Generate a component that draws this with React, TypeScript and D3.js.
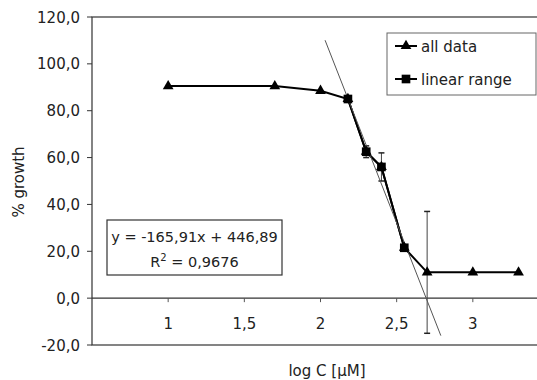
import { useEffect, useRef } from 'react'
import * as d3 from 'd3'

// all data (triangles)
const allX = [1, 1.7, 2, 2.18, 2.3, 2.4, 2.55, 2.7, 3, 3.3]
const allY = [90.5, 90.5, 88.5, 85, 62.5, 56, 21.5, 11, 11, 11]
// linear range (squares)
const linX = [2.18, 2.3, 2.4, 2.55]
const linY = [85, 62.5, 56, 21.5]
// error bars
const errX = [2.3, 2.4, 2.7]
const errY = [62.5, 56, 11]
const errVal = [2.5, 6, 26]
// linear trendline
const slope = -165.91
const intercept = 446.89
const trendRange = [2.03, 2.79]

const yTicks = [-20, 0, 20, 40, 60, 80, 100, 120]
const xTicks = [1, 1.5, 2, 2.5, 3]
const legendLabels = ['all data', 'linear range']

const FONT = '"DejaVu Sans", sans-serif'

export default function App() {
  const ref = useRef<SVGSVGElement>(null)

  useEffect(() => {
    if (!ref.current) return
    const svg = d3.select(ref.current)
    svg.selectAll('*').remove()

    const left = 92, top = 17, bottom = 345, right = 549
    const x = d3.scaleLinear().domain([0.5, 3.5]).range([left, right])
    const y = d3.scaleLinear().domain([-20, 120]).range([bottom, top])
    // german style numbers, plain hyphen for minus
    const comma = (v: number, f: string) => d3.format(f)(v).replace('.', ',').replace('\u2212', '-')

    // frame
    svg.append('rect')
      .attr('x', left).attr('y', top).attr('width', right - left).attr('height', bottom - top)
      .attr('fill', 'none').attr('stroke', '#333').attr('stroke-width', 1.2)

    // y axis ticks + labels
    yTicks.forEach(t => {
      svg.append('line').attr('x1', left - 5).attr('x2', left).attr('y1', y(t)).attr('y2', y(t))
        .attr('stroke', '#333')
      svg.append('text').attr('x', 80).attr('y', y(t) + 5.5).attr('text-anchor', 'end')
        .style('font-family', FONT).style('font-size', '15px').style('fill', '#222')
        .text(comma(t, '.1f'))
    })

    // x axis at y=0
    svg.append('line').attr('x1', left).attr('x2', right).attr('y1', y(0)).attr('y2', y(0))
      .attr('stroke', '#333').attr('stroke-width', 1.2)
    xTicks.forEach(t => {
      svg.append('line').attr('x1', x(t)).attr('x2', x(t)).attr('y1', y(0)).attr('y2', y(0) + 4)
        .attr('stroke', '#555')
      svg.append('text').attr('x', x(t)).attr('y', 329).attr('text-anchor', 'middle')
        .style('font-family', FONT).style('font-size', '15px').style('fill', '#222')
        .text(comma(t, ''))
    })

    // axis titles
    svg.append('text').attr('x', 327).attr('y', 376).attr('text-anchor', 'middle')
      .style('font-family', FONT).style('font-size', '15px').style('fill', '#222')
      .text('log C [µM]')
    svg.append('text').attr('transform', `translate(24,182) rotate(-90)`).attr('text-anchor', 'middle')
      .style('font-family', FONT).style('font-size', '15px').style('fill', '#222')
      .text('% growth')

    // error bars
    errX.forEach((ex, i) => {
      const y0 = y(errY[i] + errVal[i]), y1 = y(errY[i] - errVal[i])
      svg.append('line').attr('x1', x(ex)).attr('x2', x(ex)).attr('y1', y0).attr('y2', y1)
        .attr('stroke', '#444').attr('stroke-width', 1)
      ;[y0, y1].forEach(cy => svg.append('line').attr('x1', x(ex) - 3).attr('x2', x(ex) + 3)
        .attr('y1', cy).attr('y2', cy).attr('stroke', '#222').attr('stroke-width', 1.5))
    })

    // lines
    const path = (xs: number[], ys: number[]) =>
      d3.line<number>().x(d => x(xs[d])).y(d => y(ys[d]))(xs.map((_, i) => i))
    svg.append('path').attr('d', path(allX, allY)).attr('fill', 'none')
      .attr('stroke', '#000').attr('stroke-width', 2)
    svg.append('path').attr('d', path(linX, linY)).attr('fill', 'none')
      .attr('stroke', '#000').attr('stroke-width', 2)

    // trendline
    svg.append('line')
      .attr('x1', x(trendRange[0])).attr('y1', y(slope * trendRange[0] + intercept))
      .attr('x2', x(trendRange[1])).attr('y2', y(slope * trendRange[1] + intercept))
      .attr('stroke', '#555').attr('stroke-width', 1)

    const tri = d3.symbol(d3.symbolTriangle, 50)
    const sq = d3.symbol(d3.symbolSquare, 75)
    allX.forEach((ax, i) => {
      svg.append('path').attr('d', tri()).attr('transform', `translate(${x(ax)},${y(allY[i])})`)
        .attr('fill', '#000')
    })
    linX.forEach((lx, i) => {
      svg.append('path').attr('d', sq()).attr('transform', `translate(${x(lx)},${y(linY[i])})`)
        .attr('fill', '#000')
    })

    // equation box
    svg.append('rect').attr('x', 107).attr('y', 220).attr('width', 175).attr('height', 55)
      .attr('fill', '#fff').attr('stroke', '#333').attr('stroke-width', 1.2)
    svg.append('text').attr('x', 194.5).attr('y', 242).attr('text-anchor', 'middle')
      .style('font-family', FONT).style('font-size', '14.5px').style('fill', '#222')
      .text(`y = ${comma(slope, '.2f')}x + ${comma(intercept, '.2f')}`)
    const r2 = svg.append('text').attr('x', 194.5).attr('y', 267).attr('text-anchor', 'middle')
      .style('font-family', FONT).style('font-size', '14.5px').style('fill', '#222')
    r2.append('tspan').text('R')
    r2.append('tspan').attr('dy', -6).style('font-size', '10px').text('2')
    r2.append('tspan').attr('dy', 6).text(' = 0,9676')

    // legend
    svg.append('rect').attr('x', 387).attr('y', 33).attr('width', 149).attr('height', 62)
      .attr('fill', '#fff').attr('stroke', '#666').attr('stroke-width', 1)
    legendLabels.forEach((lab, i) => {
      const ly = 46 + i * 33
      svg.append('line').attr('x1', 395).attr('x2', 417).attr('y1', ly).attr('y2', ly)
        .attr('stroke', '#000').attr('stroke-width', 2)
      svg.append('path').attr('d', i === 0 ? tri() : sq()).attr('transform', `translate(406,${ly})`)
        .attr('fill', '#000')
      svg.append('text').attr('x', 421).attr('y', ly + 5.5)
        .style('font-family', FONT).style('font-size', '15px').style('fill', '#222')
        .text(lab)
    })
  }, [])

  return (
    <svg ref={ref} width={537} height={380}
      style={{ position: 'absolute', left: 0, top: 0, background: '#fff', overflow: 'hidden' }} />
  )
}
